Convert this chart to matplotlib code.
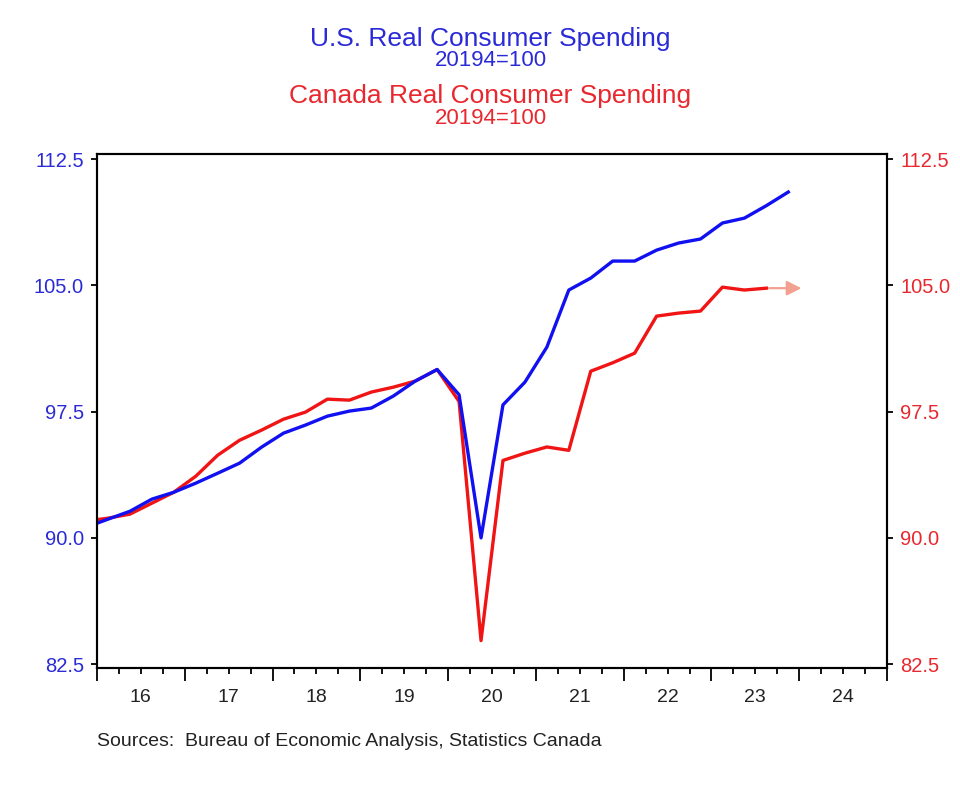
import matplotlib
matplotlib.use("Agg")
import matplotlib.pyplot as plt
import matplotlib.transforms as mtransforms
import numpy as np

# quarterly, 2015Q4 onward (index 2019Q4 = 100)
start_year = 2015
start_quarter = 4

us_spending = [
    90.63,
    91.11, 91.58, 92.30, 92.71,
    93.25, 93.84, 94.44, 95.39,
    96.22, 96.70, 97.23, 97.53,
    97.71, 98.42, 99.31, 100.00,
    98.50, 90.00, 97.90, 99.25,
    101.33, 104.72, 105.43, 106.44,
    106.44, 107.09, 107.51, 107.75,
    108.70, 108.99, 109.73, 110.54,
]

canada_spending = [
    91.00,
    91.17, 91.41, 92.06, 92.71,
    93.66, 94.91, 95.80, 96.40,
    97.05, 97.47, 98.24, 98.18,
    98.66, 98.95, 99.31, 100.00,
    98.10, 83.90, 94.60, 95.03,
    95.40, 95.20, 99.90, 100.40,
    100.97, 103.17, 103.35, 103.47,
    104.89, 104.72, 104.83,
]

year_labels = ["16", "17", "18", "19", "20", "21", "22", "23", "24"]
y_ticks = [82.5, 90.0, 97.5, 105.0, 112.5]

BLUE = "#1010f0"
RED = "#f01414"
BLUE_TXT = "#2a2ad6"
RED_TXT = "#e8282e"


def quarter_positions(n):
    # plot each quarter at its midpoint
    pos = []
    y, q = start_year, start_quarter
    for _ in range(n):
        pos.append(y + (q - 1) / 4 + 0.125)
        q += 1
        if q > 4:
            q = 1
            y += 1
    return np.array(pos)


def main():
    plt.rcParams["font.family"] = ["Liberation Sans", "DejaVu Sans"]

    fig = plt.figure(figsize=(9.6, 7.88), dpi=100)
    ax = fig.add_axes([0.101, 0.152, 0.823, 0.6526])

    x_us = quarter_positions(len(us_spending))
    x_ca = quarter_positions(len(canada_spending))

    ax.plot(x_ca, canada_spending, color=RED, lw=2.4, zorder=3)
    ax.plot(x_us, us_spending, color=BLUE, lw=2.4, zorder=4)

    # arrow pointing to the right-hand scale
    ax.annotate("", xy=(x_ca[-1] + 0.40, canada_spending[-1]),
                xytext=(x_ca[-1] + 0.03, canada_spending[-1]),
                arrowprops=dict(arrowstyle="-|>", color="#f2a090", lw=1.6,
                                mutation_scale=22, shrinkA=0, shrinkB=0))

    ax.set_xlim(2016, 2025)
    ax.set_ylim(82.26, 112.8)

    years = np.arange(2016, 2026)
    ax.set_xticks(years)
    ax.set_xticklabels([])
    ax.set_xticks(np.arange(2016, 2025.01, 0.25), minor=True)
    ax.tick_params(axis="x", which="major", direction="out", length=9, width=1.3)
    ax.tick_params(axis="x", which="minor", direction="out", length=4.5, width=1.3)

    trans = mtransforms.blended_transform_factory(ax.transData, ax.transAxes)
    for yr, lab in zip(years[:-1], year_labels):
        ax.text(yr + 0.5, -0.057, lab, transform=trans, ha="center", va="center",
                fontsize=14, color="#222222")

    ax.set_yticks(y_ticks)
    ax.set_yticklabels([f"{v:.1f}" for v in y_ticks])
    ax.tick_params(axis="y", direction="out", length=4.5, width=1.3,
                   labelsize=14.5, labelcolor=BLUE_TXT, pad=5)

    ax2 = ax.twinx()
    ax2.set_ylim(ax.get_ylim())
    ax2.set_yticks(y_ticks)
    ax2.set_yticklabels([f"{v:.1f}" for v in y_ticks])
    ax2.tick_params(axis="y", direction="out", length=4.5, width=1.3,
                    labelsize=14.5, labelcolor=RED_TXT, pad=5)

    for a in (ax, ax2):
        for s in a.spines.values():
            s.set_linewidth(1.5)
            s.set_color("black")

    # titles
    fig.text(0.511, 1 - 39 / 788, "U.S. Real Consumer Spending", ha="center",
             va="center", fontsize=19, color=BLUE_TXT)
    fig.text(0.511, 1 - 61 / 788, "20194=100", ha="center", va="center",
             fontsize=16, color=BLUE_TXT)
    fig.text(0.511, 1 - 96 / 788, "Canada Real Consumer Spending", ha="center",
             va="center", fontsize=19, color=RED_TXT)
    fig.text(0.511, 1 - 118 / 788, "20194=100", ha="center", va="center",
             fontsize=16, color=RED_TXT)

    fig.text(97 / 960, 1 - 742 / 788,
             "Sources:  Bureau of Economic Analysis, Statistics Canada",
             ha="left", va="center", fontsize=14, color="#222222")

    fig.savefig("out.png", dpi=100)


main()
